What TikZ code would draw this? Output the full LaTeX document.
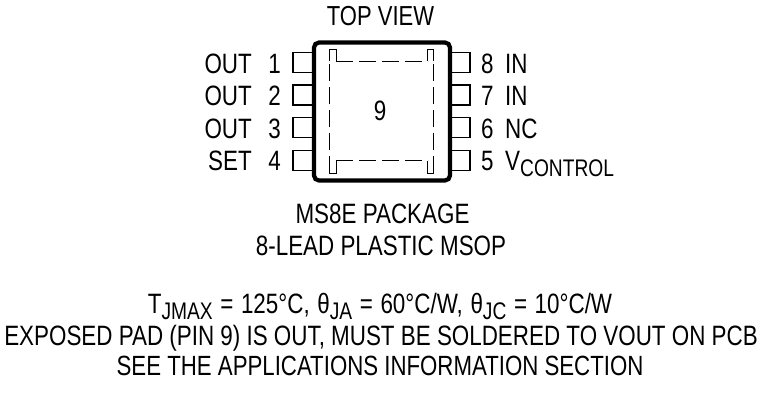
\documentclass[tikz,border=0pt]{standalone}
\usepackage{fontspec}
\setmainfont[FakeStretch=0.8]{Liberation Sans}
\usetikzlibrary{positioning}
\newcommand{\lowtxt}[1]{\raisebox{-6pt}{\fontsize{24}{24}\selectfont #1}}
\tikzset{
  pkgtext/.style={inner sep=0pt,font=\fontsize{28}{28}\selectfont,text=black},
  leftlabel/.style={pkgtext,anchor=base east},
  rightlabel/.style={pkgtext,anchor=base west},
  midlabel/.style={pkgtext,anchor=base},
  pinbox/.style={draw=black,line width=1.3pt,inner sep=0pt,minimum width=20pt,minimum height=20pt},
  padedge/.style={line width=1pt,dash pattern=on 17pt off 6pt},
  padnotch/.style={line width=1pt},
}
\begin{document}
\begin{tikzpicture}[x=1pt,y=-1pt]
\useasboundingbox (0,0) rectangle (760,416);

\node[midlabel] (topview) at (380.5,25.5) {\fontsize{27.5}{27.5}\selectfont TOP VIEW};

% pins
\foreach \n/\y in {1/62.5,2/95,3/127.5,4/160.5}
  \node[pinbox] (pin\n) at (303,\y) {};
\foreach \n/\y in {8/62.5,7/95,6/127.5,5/160.5}
  \node[pinbox] (pin\n) at (460,\y) {};

% package body
\draw[line width=4.2pt,rounded corners=5pt,fill=white] (314,42.5) rectangle (450,180.5);

% exposed pad
\draw[padedge] (336,61.5) -- (428,61.5);
\draw[padedge] (336,160.5) -- (428,160.5);
\draw[padedge] (433.5,64) -- (433.5,172);
\draw[padedge] (329,64) -- (329,172);
\draw[padnotch] (329,61) -- (329,49) -- (336,49) -- (336,61);
\draw[padnotch] (427.5,61) -- (427.5,49) -- (433.5,49) -- (433.5,61);
\draw[padnotch] (329,166) -- (329,173.5) -- (336,173.5) -- (336,161);
\draw[padnotch] (427.5,161) -- (427.5,173.5) -- (433.5,173.5) -- (433.5,166);

\node[midlabel] (padnum) at (380,120) {9};

% left labels
\foreach \n/\t/\y in {1/OUT/73.5,2/OUT/105.5,3/OUT/138,4/SET/170.5}{
  \node[leftlabel] (num\n) at (281,\y) {\n};
  \node[leftlabel] (name\n) at (252,\y) {\t};
}
% right labels
\foreach \n/\t/\y in {8/IN/73.5,7/IN/105.5,6/NC/138,5/{V\lowtxt{CONTROL}}/170}{
  \node[rightlabel] (num\n) at (481,\y) {\n};
  \node[rightlabel] (name\n) at (505,\y) {\t};
}

\node[midlabel] (pkgname) at (382.5,223) {MS8E PACKAGE};
\node[midlabel] (pkgtype) at (381,255) {8-LEAD PLASTIC MSOP};

\node[midlabel] (thermal) at (380,313) {\spaceskip=7.6pt T\lowtxt{JMAX} = 125°C, θ\lowtxt{JA} = 60°C/W, θ\lowtxt{JC} = 10°C/W};
\node[midlabel] (exposed) at (381,345) {EXPOSED PAD (PIN 9) IS OUT, MUST BE SOLDERED TO VOUT ON PCB};
\node[midlabel] (seeapp) at (380,375) {\fontsize{27.8}{27.8}\selectfont SEE THE APPLICATIONS INFORMATION SECTION};

\end{tikzpicture}
\end{document}
